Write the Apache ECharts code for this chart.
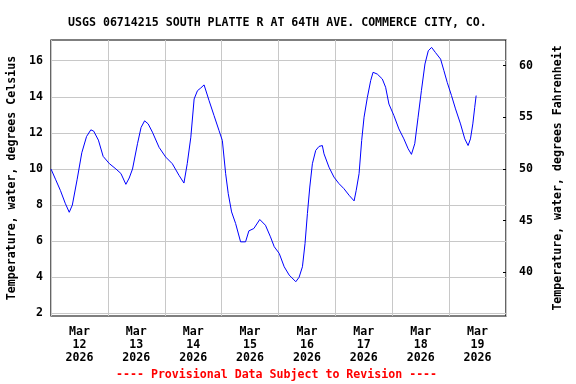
<!DOCTYPE html>
<html><head><meta charset="utf-8">
<script src="https://cdn.jsdelivr.net/npm/echarts@6/dist/echarts.min.js"></script>
<style>html,body{margin:0;padding:0;background:#fff}#c{width:576px;height:384px}</style>
</head><body><div id="c"></div>
<script>
// hours since Mar 12 2026 00:00
var hours = [0,2,4,6,7.7,9,11,13,15,16.8,18,20,22,24.6,27.4,29.5,31.6,33,34.4,36.5,38,39.5,41,42.8,45.6,48.4,51.2,54,56.1,57.5,59,60.4,61.8,63.2,64.6,66.7,68.8,70.9,72.3,73.7,74.8,76.2,77.9,80,82.1,83.5,85.6,88.1,90.5,92.6,94.2,96.3,98.4,100.5,103.3,104.7,106.1,107.2,108.2,109.2,110.3,111.7,113.1,114.5,115.2,117.3,119.4,121.5,123.6,125.8,127.9,128.8,130,131.1,132.1,133.5,134.9,135.9,137.7,139.8,141.2,142.6,144.7,146.8,148.9,150.7,152.1,153.5,154.9,156.3,157.8,159.2,160.6,162.2,164.4,165.8,167.2,169,170.7,172.8,174.6,176,177,178,178.8,179.4];
var tempC = [10.0,9.4,8.8,8.1,7.6,8.0,9.4,10.9,11.8,12.17,12.1,11.6,10.7,10.3,10.0,9.75,9.15,9.5,10.0,11.4,12.3,12.67,12.5,12.04,11.2,10.66,10.29,9.65,9.22,10.3,11.76,13.88,14.34,14.49,14.66,13.79,12.96,12.13,11.58,9.74,8.63,7.62,6.98,5.96,5.96,6.57,6.7,7.2,6.88,6.24,5.69,5.32,4.58,4.12,3.75,4.0,4.58,5.87,7.53,9.0,10.29,11.03,11.25,11.3,10.84,10.1,9.55,9.19,8.91,8.54,8.23,8.82,9.74,11.58,12.87,13.97,14.9,15.36,15.26,14.99,14.53,13.6,12.96,12.22,11.67,11.12,10.81,11.4,12.87,14.34,15.82,16.55,16.74,16.46,16.09,15.45,14.8,14.07,13.33,12.5,11.67,11.3,11.67,12.5,13.42,14.07];
var cTicks = [2,4,6,8,10,12,14,16];
var fTicks = [40,45,50,55,60];
var dayLabelHours = [12,36,60,84,108,132,156,180];
var dayLabels = ['Mar\n12\n2026','Mar\n13\n2026','Mar\n14\n2026','Mar\n15\n2026','Mar\n16\n2026','Mar\n17\n2026','Mar\n18\n2026','Mar\n19\n2026'];

var FONT = 'DejaVu Sans Mono';
var data = hours.map(function(h,i){return [h,tempC[i]];});
var chart = echarts.init(document.getElementById('c'), null, {renderer:'canvas'});
chart.setOption({
  animation:false,
  backgroundColor:'#fff',
  title:{text:'USGS 06714215 SOUTH PLATTE R AT 64TH AVE. COMMERCE CITY, CO.',left:63,top:12,
    textStyle:{fontFamily:FONT,fontSize:11.6,fontWeight:'bold',color:'#000'}},
  graphic:[{type:'text',left:116,top:369,style:{text:'---- Provisional Data Subject to Revision ----',
    font:'bold 11.6px '+FONT,fill:'#ff0000'}}],
  grid:{left:51,right:70,top:40,bottom:68,outerBoundsMode:'none',containLabel:false,show:true,borderColor:'#000',borderWidth:1.2,backgroundColor:'transparent'},
  xAxis:{type:'value',min:0,max:192,interval:24,
    axisLine:{show:false},axisTick:{show:false},
    splitLine:{show:true,lineStyle:{color:'#c8c8c8',width:1}},
    axisLabel:{customValues:dayLabelHours,margin:9,lineHeight:13,
      fontFamily:FONT,fontSize:11.6,fontWeight:'bold',color:'#000',
      formatter:function(v){var i=dayLabelHours.indexOf(Math.round(v));return i>=0?dayLabels[i]:'';}}},
  yAxis:[{type:'value',min:1.85,max:17.15,position:'left',
    name:'Temperature, water, degrees Celsius',nameLocation:'middle',nameGap:32,
    nameTextStyle:{fontFamily:FONT,fontSize:11.6,fontWeight:'bold',color:'#000'},
    axisLine:{show:false},axisTick:{show:false,customValues:cTicks},
    splitLine:{show:true,lineStyle:{color:'#c8c8c8',width:1}},
    axisLabel:{customValues:cTicks,margin:8,fontFamily:FONT,fontSize:11.6,fontWeight:'bold',color:'#000'}},
   {type:'value',min:35.75,max:62.48,position:'right',
    name:'Temperature, water, degrees Fahrenheit',nameLocation:'middle',nameGap:46,
    nameTextStyle:{fontFamily:FONT,fontSize:11.6,fontWeight:'bold',color:'#000'},
    axisLine:{show:false},axisTick:{show:true,inside:true,length:3,customValues:fTicks,lineStyle:{color:'#000'}},
    splitLine:{show:false},
    axisLabel:{customValues:fTicks,margin:13,fontFamily:FONT,fontSize:11.6,fontWeight:'bold',color:'#000'}}],
  series:[{type:'line',data:data,yAxisIndex:0,showSymbol:false,symbol:'none',
    lineStyle:{color:'#0000ff',width:1},silent:true}]
});
</script></body></html>
